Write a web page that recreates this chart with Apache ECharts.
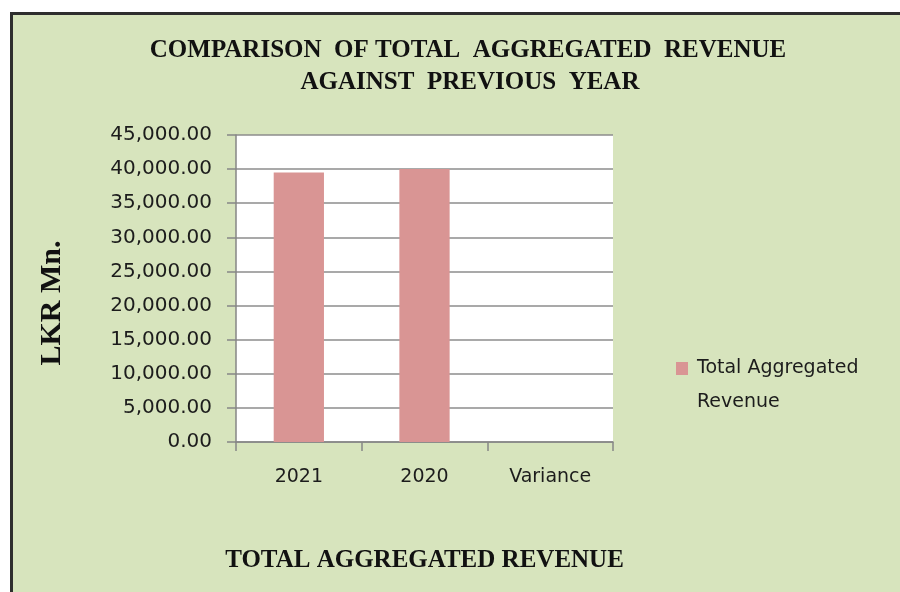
<!DOCTYPE html>
<html>
<head>
<meta charset="utf-8">
<script src="https://cdn.jsdelivr.net/npm/echarts@6/dist/echarts.min.js"></script>
<style>
  html, body { margin: 0; padding: 0; background: #ffffff; }
  #chart { width: 900px; height: 592px; }
</style>
</head>
<body>
<div id="chart"></div>
<script>
// Revenue comparison, LKR Mn.
const categories = ['2021', '2020', 'Variance'];
const revenue = [39520, 40020, null];
const seriesName = 'Total Aggregated Revenue';
const yMin = 0;
const yMax = 45000;
const yStep = 5000;

const titleLines = ['COMPARISON  OF TOTAL  AGGREGATED  REVENUE', 'AGAINST  PREVIOUS  YEAR'];
const xAxisTitle = 'TOTAL AGGREGATED REVENUE';
const yAxisTitle = 'LKR Mn.';
const legendLines = ['Total Aggregated', 'Revenue'];

const serif = '"Liberation Serif", "Times New Roman", serif';
const sans = '"DejaVu Sans", Verdana, sans-serif';
const axisGrey = '#868686';
const textDark = '#1c1c1c';

const chart = echarts.init(document.getElementById('chart'), null, { renderer: 'canvas' });

const fmt = v => Number(v).toLocaleString('en-US', { minimumFractionDigits: 2, maximumFractionDigits: 2 });

chart.setOption({
  backgroundColor: '#d7e4bd',
  animation: false,
  graphic: [
    // white margin outside the frame
    { type: 'rect', shape: { x: 0, y: 0, width: 10, height: 592 }, style: { fill: '#ffffff' }, silent: true },
    { type: 'rect', shape: { x: 0, y: 0, width: 900, height: 12 }, style: { fill: '#ffffff' }, silent: true },
    // dark frame edges
    { type: 'rect', shape: { x: 10, y: 12, width: 3, height: 580 }, style: { fill: '#2e2e2e' }, silent: true },
    { type: 'rect', shape: { x: 10, y: 12, width: 890, height: 3 }, style: { fill: '#2e2e2e' }, silent: true },
    // chart heading
    { type: 'text', x: 468, y: 51, silent: true,
      style: { text: titleLines[0], font: 'bold 25px ' + serif, fill: '#111111', align: 'center', verticalAlign: 'middle' } },
    { type: 'text', x: 470, y: 83, silent: true,
      style: { text: titleLines[1], font: 'bold 25px ' + serif, fill: '#111111', align: 'center', verticalAlign: 'middle' } },
    // vertical axis title
    { type: 'text', x: 52, y: 303, rotation: Math.PI / 2, silent: true,
      style: { text: yAxisTitle, font: 'bold 30px ' + serif, fill: '#111111', align: 'center', verticalAlign: 'middle' } }
  ],
  grid: {
    left: 236, top: 135, width: 377, height: 307,
    show: true, backgroundColor: '#ffffff', borderWidth: 0
  },
  legend: {
    data: [seriesName],
    left: 676,
    top: 317.5,
    padding: 0,
    icon: 'rect',
    itemWidth: 12,
    itemHeight: 13,
    // blank leading line keeps the swatch level with the first text line
    formatter: () => '\n' + legendLines.join('\n'),
    textStyle: {
      fontFamily: sans, fontSize: 19, color: textDark,
      lineHeight: 34, padding: [0, 0, 0, 4]
    }
  },
  xAxis: {
    type: 'category',
    data: categories,
    boundaryGap: true,
    axisLine: { show: true, lineStyle: { color: axisGrey, width: 1.5 } },
    axisTick: { show: true, length: 9, alignWithLabel: false, lineStyle: { color: axisGrey, width: 1.5 } },
    axisLabel: { margin: 26, fontFamily: sans, fontSize: 19, color: textDark },
    splitLine: { show: false },
    name: xAxisTitle,
    nameLocation: 'middle',
    nameGap: 106,
    nameTextStyle: { fontFamily: serif, fontWeight: 'bold', fontSize: 25, color: '#111111' }
  },
  yAxis: {
    type: 'value',
    min: yMin,
    max: yMax,
    interval: yStep,
    axisLine: { show: true, lineStyle: { color: axisGrey, width: 1.5 } },
    axisTick: { show: true, length: 9, inside: false, lineStyle: { color: axisGrey, width: 1.5 } },
    axisLabel: { margin: 24, fontFamily: sans, fontSize: 20, color: textDark, formatter: fmt },
    splitLine: { show: true, lineStyle: { color: '#8c8c8c', width: 1.5 } }
  },
  series: [{
    name: seriesName,
    type: 'bar',
    data: revenue,
    barWidth: '40%',
    itemStyle: { color: '#d99594' }
  }]
});
</script>
</body>
</html>
